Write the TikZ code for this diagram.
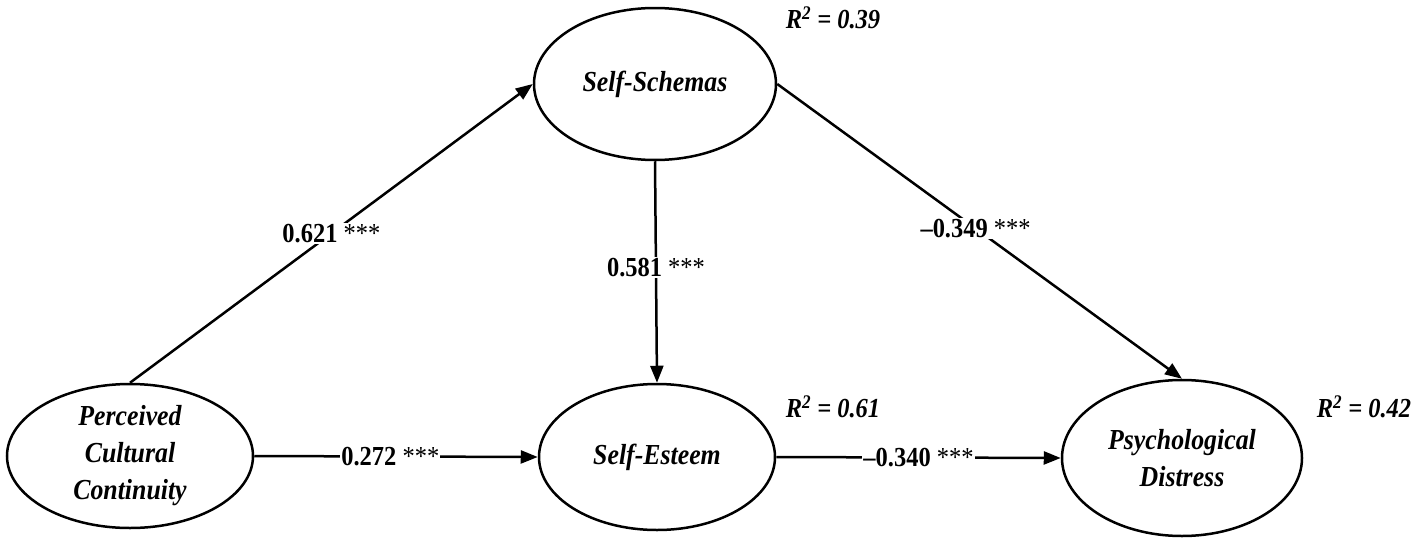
\documentclass[tikz,border=0pt]{standalone}
\usepackage{fontspec}
\setmainfont{Liberation Serif}
\newfontfamily\tallserif[FakeStretch=0.89,Ligatures=TeX]{Liberation Serif}
\usetikzlibrary{arrows.meta,shapes.geometric}
\begin{document}
\begin{tikzpicture}[x=1pt,y=-1pt,
  latent/.style={draw=black,line width=2.5pt,ellipse,inner sep=0pt,align=center,
    font=\tallserif\fontsize{29}{37}\selectfont\bfseries\itshape},
  path/.style={line width=2.5pt,-{Triangle[length=17pt,width=13pt]}},
  coef/.style={fill=white,inner sep=1pt,font=\tallserif\fontsize{27.5}{32}\selectfont},
  rsq/.style={font=\tallserif\fontsize{27.5}{32}\selectfont\bfseries\itshape}]
\useasboundingbox (0,0) rectangle (1417,538);
\node[latent,minimum width=246pt,minimum height=144pt] (pcc) at (130,456) {Perceived\\Cultural\\Continuity};
\node[latent,minimum width=242pt,minimum height=152pt] (ss) at (655,84) {Self-Schemas};
\node[latent,minimum width=236pt,minimum height=146pt] (se) at (657,457) {Self-Esteem};
\node[latent,minimum width=240pt,minimum height=156pt] (psy) at (1182,458) {Psychological\\Distress};
\draw[path] (pcc.north) -- node[coef,pos=0.5]{\textbf{0.621} ***} (ss.west);
\draw[path] (ss.east) -- node[coef,pos=0.49]{\textbf{–0.349} ***} (psy.north);
\draw[path] (ss.south) -- node[coef,pos=0.48]{\textbf{0.581} ***} (se.north);
\draw[path] (pcc.east) -- node[coef,pos=0.48]{\textbf{0.272} ***} (se.west);
\draw[path] (se.east) -- node[coef,pos=0.5]{\textbf{–0.340} ***} (psy.west);
\node[rsq] (r1) at (833,18) {R\textsuperscript{2} = 0.39};
\node[rsq] (r2) at (833,407) {R\textsuperscript{2} = 0.61};
\node[rsq] (r3) at (1364,407) {R\textsuperscript{2} = 0.42};
\end{tikzpicture}
\end{document}
